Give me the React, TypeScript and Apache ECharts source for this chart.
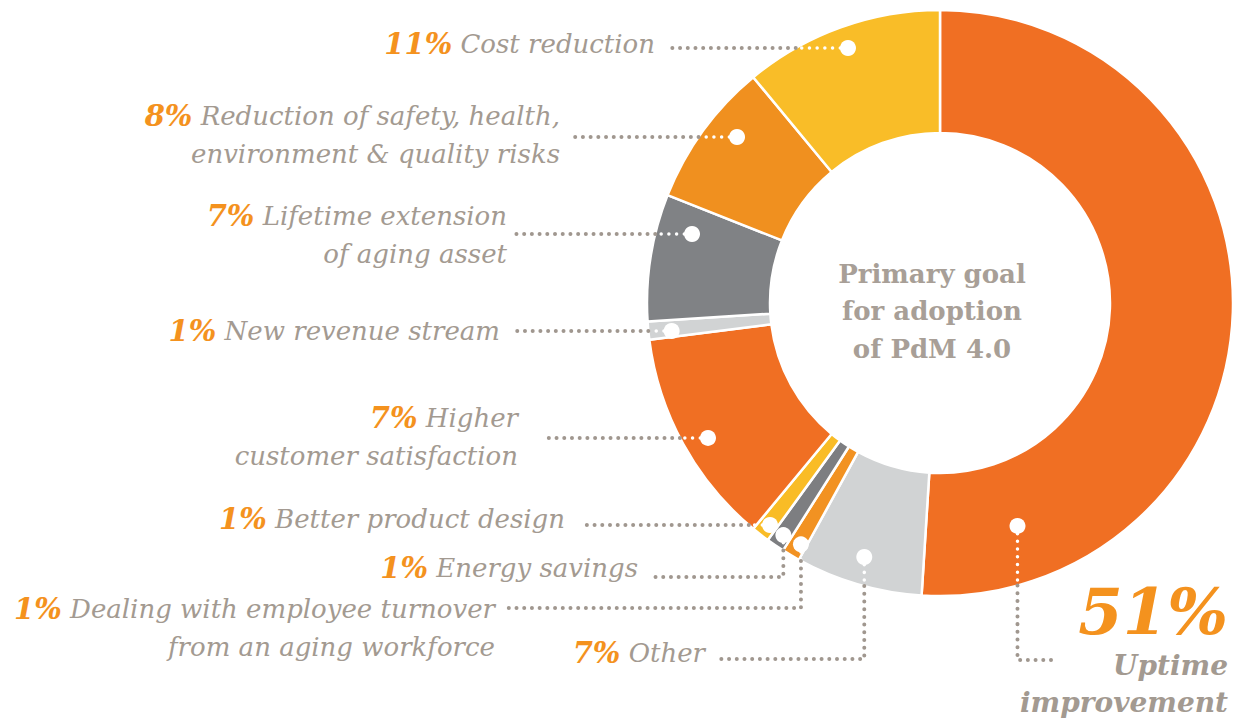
import React, { useEffect, useRef } from "react";
import * as echarts from "echarts";

// ---------- data ----------
const categories = [
  "Uptime improvement",
  "Other",
  "Dealing with employee turnover from an aging workforce",
  "Energy savings",
  "Better product design",
  "Higher customer satisfaction",
  "New revenue stream",
  "Lifetime extension of aging asset",
  "Reduction of safety, health, environment & quality risks",
  "Cost reduction",
];
// slice sizes as drawn in the picture (share of the ring)
const sliceValues = [51, 7, 1, 1, 1, 12, 1, 7, 8, 11];
// percentages printed next to each slice
const percentLabels = ["51%", "7%", "1%", "1%", "1%", "7%", "1%", "7%", "8%", "11%"];
const labelTextLines = [
  ["Uptime", "improvement"],
  ["Other"],
  ["Dealing with employee turnover", "from an aging workforce"],
  ["Energy savings"],
  ["Better product design"],
  ["Higher", "customer satisfaction"],
  ["New revenue stream"],
  ["Lifetime extension", "of aging asset"],
  ["Reduction of safety, health,", "environment & quality risks"],
  ["Cost reduction"],
];
const centerTitle = ["Primary goal", "for adoption", "of PdM 4.0"];

// ---------- style / layout ----------
const sliceColors = [
  "#F06F23", "#D1D3D4", "#F29222", "#7D7E81", "#F9BC26",
  "#F06F23", "#D1D3D4", "#808285", "#F0901F", "#F9BD28",
];
const CX = 940, CY = 303, R_OUT = 293, R_IN = 170;
const ORANGE = "#F4921E";
const GRAY_TEXT = "#A39A91";
const GRAY_DOT = "#A0978F";
const FONT = "'DejaVu Serif', serif";
const LH = 38;

// leader layout per slice
const dotAngleFrac = [0.876, 0.516, 0.32, 0.45, 0.4, 0.468, 0.344, 0.76, 0.614, 0.499];
const dotRadius = [236, 265, 278.5, 280, 279.6, 268.4, 269.8, 257.4, 262.2, 271.1];
const leaderMode = ["vr", "v", "v", "v", "h", "h", "h", "h", "h", "h"];
const leaderTurnY = [660, 659, 608, 577, 0, 0, 0, 0, 0, 0];
const leaderEndX = [1058, 717, 505, 653, 583, 545, 517, 515, 570, 668];
const textRightX = [1228, 705, 495, 638, 565, 518, 500, 507, 560, 655];
const textFirstY = [665, 653, 609, 568, 519, 418, 331, 216, 116, 44];

function polar(deg: number, r: number) {
  const a = (deg * Math.PI) / 180;
  return [CX + r * Math.sin(a), CY - r * Math.cos(a)];
}

function dotted(points: number[][], color: string, w: number) {
  return {
    type: "polyline",
    z: 100,
    silent: true,
    shape: { points },
    style: { stroke: color, fill: null, lineWidth: w, lineDash: [0.01, 7.7], lineCap: "round" },
  };
}

function buildGraphics() {
  const total = sliceValues.reduce((a, b) => a + b, 0);
  const els: any[] = [];
  let cum = 0;
  sliceValues.forEach((v, i) => {
    const start = (cum / total) * 360;
    const span = (v / total) * 360;
    cum += v;
    const ang = start + span * dotAngleFrac[i];
    const [dx, dy] = polar(ang, dotRadius[i]);
    const mode = leaderMode[i];
    if (mode === "h") {
      const ex = CX - Math.sqrt(R_OUT * R_OUT - (dy - CY) * (dy - CY));
      els.push(dotted([[dx, dy], [ex, dy]], "#ffffff", 3.5));
      els.push(dotted([[ex, dy], [leaderEndX[i], dy]], GRAY_DOT, 4));
    } else {
      const ey = CY + Math.sqrt(R_OUT * R_OUT - (dx - CX) * (dx - CX));
      els.push(dotted([[dx, dy], [dx, ey]], "#ffffff", 3.5));
      els.push(dotted([[dx, ey], [dx, leaderTurnY[i]], [leaderEndX[i], leaderTurnY[i]]], GRAY_DOT, 4));
    }
    els.push({
      type: "circle",
      z: 101,
      silent: true,
      shape: { cx: dx, cy: dy, r: 8 },
      style: { fill: "#ffffff" },
    });

    if (i === 0) {
      els.push({
        type: "text",
        z: 102,
        silent: true,
        style: {
          text: percentLabels[i],
          x: textRightX[i],
          y: 611,
          align: "right",
          verticalAlign: "middle",
          fontFamily: FONT,
          fontSize: 64,
          fontWeight: "bold",
          fontStyle: "italic",
          fill: ORANGE,
        },
      });
      els.push({
        type: "text",
        z: 102,
        silent: true,
        style: {
          text: labelTextLines[i].join("\n"),
          x: textRightX[i],
          y: textFirstY[i] - 18.5,
          align: "right",
          verticalAlign: "top",
          lineHeight: 37,
          fontFamily: FONT,
          fontSize: 28,
          fontWeight: "bold",
          fontStyle: "italic",
          fill: GRAY_TEXT,
        },
      });
    } else {
      const lines = labelTextLines[i];
      const txt =
        `{p|${percentLabels[i]}}{t| ${lines[0]}}` +
        lines.slice(1).map((l) => `\n{t|${l}}`).join("");
      els.push({
        type: "text",
        z: 102,
        silent: true,
        style: {
          text: txt,
          x: textRightX[i],
          y: textFirstY[i] - LH / 2,
          align: "right",
          verticalAlign: "top",
          fontFamily: FONT,
          fontSize: 26,
          lineHeight: LH,
          fill: GRAY_TEXT,
          rich: {
            p: { fontFamily: FONT, fontSize: 29, fontWeight: "bold", fontStyle: "italic", fill: ORANGE, lineHeight: LH },
            t: { fontFamily: FONT, fontSize: 26, fontStyle: "italic", fill: GRAY_TEXT, lineHeight: LH },
          },
        },
      });
    }
  });

  els.push({
    type: "text",
    z: 102,
    silent: true,
    style: {
      text: centerTitle.join("\n"),
      x: 932,
      y: 311,
      align: "center",
      verticalAlign: "middle",
      lineHeight: 37.5,
      fontFamily: FONT,
      fontSize: 26,
      fontWeight: "bold",
      fill: "#A89F97",
    },
  });
  return els;
}

export default function App() {
  const ref = useRef<HTMLDivElement>(null);
  useEffect(() => {
    if (!ref.current) return;
    const chart = echarts.init(ref.current, undefined, { renderer: "svg" });
    chart.setOption({
      animation: false,
      backgroundColor: "#ffffff",
      series: [
        {
          type: "pie",
          center: [CX, CY],
          radius: [R_IN, R_OUT],
          startAngle: 90,
          clockwise: true,
          silent: true,
          label: { show: false },
          labelLine: { show: false },
          emphasis: { disabled: true },
          itemStyle: { borderColor: "#ffffff", borderWidth: 2.5 },
          data: categories.map((name, i) => ({
            name,
            value: sliceValues[i],
            itemStyle: { color: sliceColors[i] },
          })),
        },
      ],
      graphic: buildGraphics(),
    });
    return () => chart.dispose();
  }, []);
  return (
    <div
      ref={ref}
      style={{ position: "absolute", left: 0, top: 0, width: 1236, height: 719 }}
    />
  );
}
